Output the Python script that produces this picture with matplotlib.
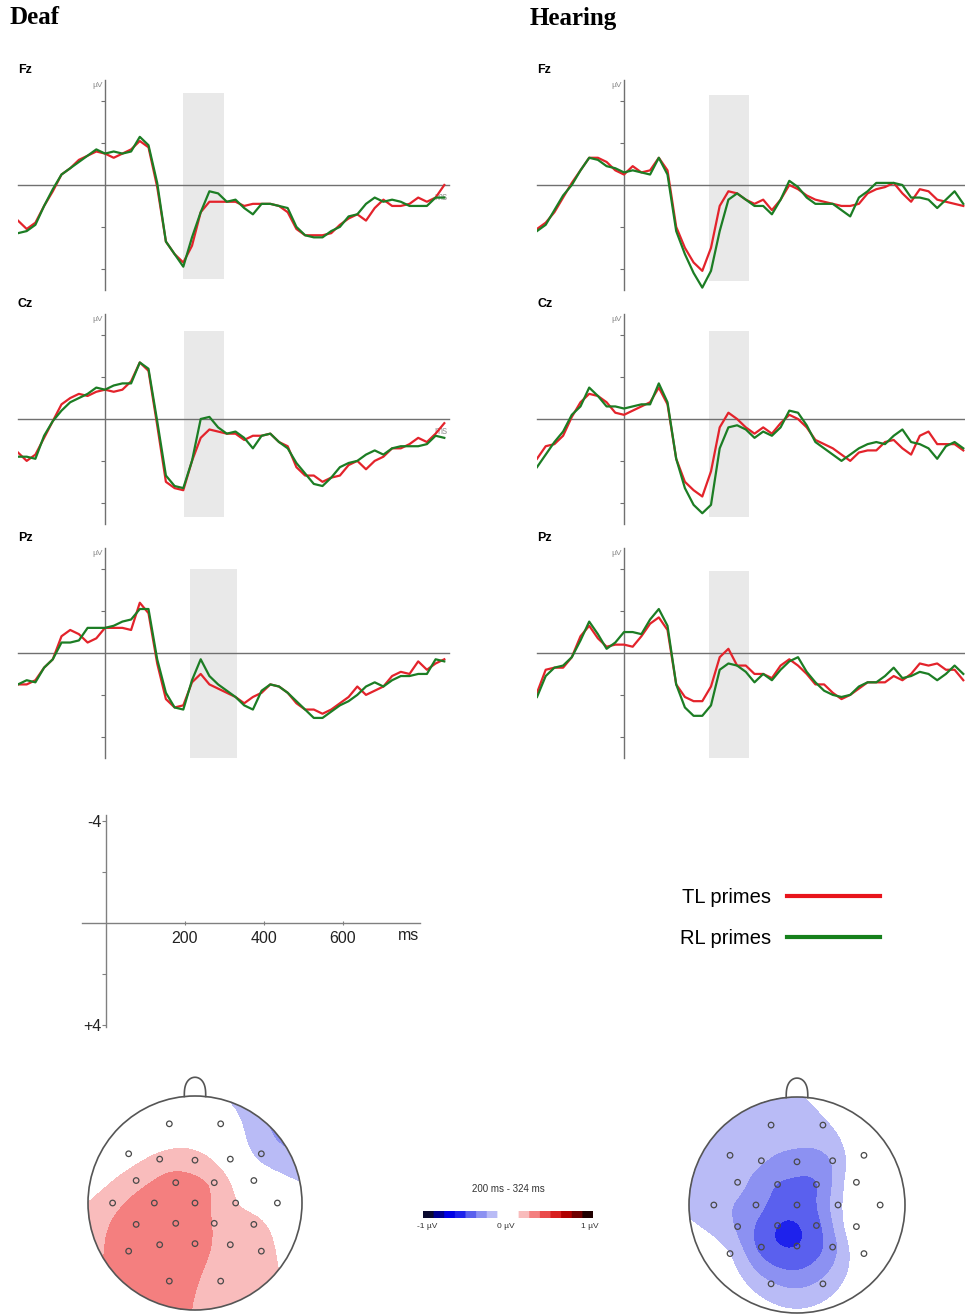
import numpy as np
import matplotlib
matplotlib.use("Agg")
import matplotlib.pyplot as plt
from matplotlib.colors import ListedColormap, BoundaryNorm
from matplotlib.lines import Line2D
from matplotlib.patches import Circle

plt.rcParams['font.family'] = ['Liberation Sans', 'DejaVu Sans']

# ---------------- data ----------------
times = np.arange(-200, 781, 20)   # ms

deaf_fz_tl = [1.7, 2.1, 1.8, 1.0, 0.3, -0.5, -0.8, -1.2, -1.4, -1.6,
              -1.5, -1.3, -1.5, -1.7, -2.1, -1.8, 0.1, 2.7, 3.3, 3.7,
              2.9, 1.3, 0.8, 0.8, 0.8, 0.8, 1.0, 0.9, 0.9, 0.9,
              1.0, 1.3, 2.1, 2.4, 2.4, 2.4, 2.3, 1.9, 1.6, 1.4,
              1.7, 1.1, 0.7, 1.0, 1.0, 0.9, 0.6, 0.8, 0.6, 0.0]
deaf_fz_rl = [2.3, 2.2, 1.9, 1.0, 0.2, -0.5, -0.8, -1.1, -1.4, -1.7,
              -1.5, -1.6, -1.5, -1.6, -2.3, -1.9, -0.1, 2.7, 3.3, 3.9,
              2.5, 1.3, 0.3, 0.4, 0.8, 0.7, 1.1, 1.4, 0.9, 0.9,
              1.0, 1.1, 2.0, 2.4, 2.5, 2.5, 2.2, 2.0, 1.5, 1.4,
              0.9, 0.6, 0.8, 0.7, 0.8, 1.0, 1.0, 1.0, 0.6, 0.6]
deaf_cz_tl = [1.6, 2.0, 1.7, 0.9, 0.1, -0.7, -1.0, -1.2, -1.1, -1.3,
              -1.4, -1.3, -1.4, -1.8, -2.7, -2.3, 0.3, 3.0, 3.3, 3.4,
              2.0, 0.9, 0.5, 0.6, 0.7, 0.7, 1.0, 0.8, 0.8, 0.7,
              1.1, 1.3, 2.3, 2.7, 2.7, 3.0, 2.8, 2.7, 2.2, 2.0,
              2.4, 2.0, 1.8, 1.4, 1.4, 1.2, 0.9, 1.1, 0.7, 0.2]
deaf_cz_rl = [1.8, 1.8, 1.9, 0.8, 0.1, -0.4, -0.8, -1.0, -1.2, -1.5,
              -1.4, -1.6, -1.7, -1.7, -2.7, -2.4, 0.1, 2.7, 3.2, 3.3,
              2.0, 0.0, -0.1, 0.4, 0.7, 0.6, 0.9, 1.4, 0.8, 0.7,
              1.1, 1.4, 2.1, 2.6, 3.1, 3.2, 2.8, 2.3, 2.1, 2.0,
              1.7, 1.5, 1.7, 1.4, 1.3, 1.3, 1.3, 1.2, 0.8, 0.9]
deaf_pz_tl = [1.5, 1.5, 1.3, 0.7, 0.3, -0.8, -1.1, -0.9, -0.5, -0.7,
              -1.2, -1.2, -1.2, -1.1, -2.4, -1.9, 0.5, 2.2, 2.6, 2.5,
              1.4, 1.0, 1.5, 1.7, 1.9, 2.1, 2.4, 2.1, 1.9, 1.5,
              1.6, 1.9, 2.4, 2.7, 2.7, 2.9, 2.7, 2.4, 2.1, 1.6,
              2.0, 1.8, 1.6, 1.1, 0.9, 1.0, 0.4, 0.8, 0.5, 0.3]
deaf_pz_rl = [1.5, 1.3, 1.4, 0.7, 0.3, -0.5, -0.5, -0.6, -1.2, -1.2,
              -1.2, -1.3, -1.5, -1.6, -2.1, -2.1, 0.3, 1.9, 2.6, 2.7,
              1.3, 0.3, 1.1, 1.5, 1.8, 2.1, 2.5, 2.7, 1.8, 1.5,
              1.6, 1.9, 2.3, 2.7, 3.1, 3.1, 2.8, 2.5, 2.3, 2.0,
              1.6, 1.4, 1.6, 1.3, 1.1, 1.1, 1.0, 1.0, 0.3, 0.4]

hear_fz_tl = [2.1, 1.8, 1.3, 0.6, -0.1, -0.7, -1.3, -1.3, -1.1, -0.7,
              -0.5, -0.9, -0.6, -0.7, -1.3, -0.7, 2.0, 3.0, 3.7, 4.1,
              3.0, 1.0, 0.3, 0.4, 0.7, 0.9, 0.7, 1.2, 0.7, 0.0,
              0.2, 0.5, 0.7, 0.8, 0.9, 1.0, 1.0, 0.9, 0.4, 0.2,
              0.1, -0.1, 0.4, 0.8, 0.2, 0.3, 0.7, 0.8, 0.9, 1.0]
hear_fz_rl = [2.2, 1.9, 1.2, 0.5, 0.0, -0.7, -1.3, -1.2, -0.9, -0.8,
              -0.6, -0.7, -0.6, -0.5, -1.3, -0.5, 2.2, 3.3, 4.2, 4.9,
              4.1, 2.2, 0.7, 0.4, 0.7, 1.0, 1.0, 1.4, 0.7, -0.2,
              0.1, 0.6, 0.9, 0.9, 0.9, 1.2, 1.5, 0.6, 0.3, -0.1,
              -0.1, -0.1, 0.0, 0.6, 0.6, 0.7, 1.1, 0.7, 0.3, 0.9]
hear_cz_tl = [1.9, 1.3, 1.2, 0.8, -0.1, -0.8, -1.2, -1.1, -0.8, -0.3,
              -0.2, -0.4, -0.6, -0.8, -1.5, -0.7, 1.9, 3.0, 3.4, 3.7,
              2.5, 0.4, -0.3, 0.0, 0.4, 0.7, 0.4, 0.7, 0.2, -0.2,
              0.0, 0.4, 1.0, 1.2, 1.4, 1.7, 2.0, 1.6, 1.5, 1.5,
              1.1, 1.0, 1.4, 1.7, 0.8, 0.6, 1.2, 1.2, 1.2, 1.5]
hear_cz_rl = [2.3, 1.7, 1.1, 0.6, -0.2, -0.6, -1.5, -1.1, -0.6, -0.6,
              -0.5, -0.6, -0.7, -0.7, -1.7, -0.8, 1.9, 3.3, 4.1, 4.5,
              4.1, 1.4, 0.4, 0.3, 0.5, 0.9, 0.6, 0.8, 0.4, -0.4,
              -0.3, 0.3, 1.1, 1.4, 1.7, 2.0, 1.7, 1.4, 1.2, 1.1,
              1.2, 0.8, 0.5, 1.1, 1.2, 1.4, 1.9, 1.3, 1.1, 1.4]
hear_pz_tl = [1.9, 0.8, 0.7, 0.7, 0.2, -0.8, -1.3, -0.7, -0.3, -0.4,
              -0.4, -0.3, -0.8, -1.4, -1.7, -1.1, 1.5, 2.1, 2.3, 2.3,
              1.6, 0.2, -0.2, 0.6, 0.6, 1.0, 1.0, 1.2, 0.6, 0.3,
              0.6, 1.0, 1.5, 1.5, 1.9, 2.2, 2.0, 1.7, 1.4, 1.4,
              1.4, 1.1, 1.3, 1.0, 0.5, 0.6, 0.5, 0.8, 0.8, 1.3]
hear_pz_rl = [2.1, 1.1, 0.7, 0.6, 0.2, -0.6, -1.5, -0.9, -0.2, -0.5,
              -1.0, -1.0, -0.9, -1.6, -2.1, -1.3, 1.5, 2.6, 3.0, 3.0,
              2.5, 0.8, 0.5, 0.6, 0.9, 1.4, 1.0, 1.3, 0.8, 0.4,
              0.2, 0.9, 1.4, 1.8, 2.0, 2.1, 2.0, 1.6, 1.4, 1.4,
              1.1, 0.7, 1.2, 1.1, 0.9, 1.0, 1.3, 1.0, 0.6, 1.0]

# shaded analysis windows (ms) and their vertical extent (µV)
deaf_windows = [(179, 274, -4.4, 4.5), (181, 274, -4.2, 4.7), (195, 303, -4.0, 5.0)]
hear_windows = [(196, 288, -4.3, 4.6), (196, 288, -4.2, 4.7), (196, 288, -3.9, 5.0)]

channels = ['Fz', 'Cz', 'Pz']

# topographic maps, 200-324 ms (µV)
elec_names = ['Fp1', 'Fp2', 'F7', 'F3', 'Fz', 'F4', 'F8', 'FC5', 'FC1', 'FC2', 'FC6',
              'T7', 'C3', 'Cz', 'C4', 'T8', 'CP5', 'CP1', 'CP2', 'CP6',
              'P7', 'P3', 'Pz', 'P4', 'P8', 'O1', 'O2']
elec_x = [-0.24, 0.24, -0.62, -0.33, 0.0, 0.33, 0.62, -0.55, -0.18, 0.18, 0.55,
          -0.77, -0.38, 0.0, 0.38, 0.77, -0.55, -0.18, 0.18, 0.55,
          -0.62, -0.33, 0.0, 0.33, 0.62, -0.24, 0.24]
elec_y = [0.74, 0.74, 0.46, 0.41, 0.40, 0.41, 0.46, 0.21, 0.19, 0.19, 0.21,
          0.0, 0.0, 0.0, 0.0, 0.0, -0.20, -0.19, -0.19, -0.20,
          -0.45, -0.39, -0.38, -0.39, -0.45, -0.73, -0.73]
deaf_topo = [0.0, -0.02, 0.05, 0.16, 0.17, 0.02, -0.17, 0.2, 0.3, 0.22, 0.0,
             0.2, 0.32, 0.3, 0.13, 0.03, 0.35, 0.36, 0.24, 0.15,
             0.3, 0.35, 0.3, 0.2, 0.15, 0.3, 0.2]
hear_topo = [-0.2, -0.15, -0.22, -0.24, -0.3, -0.24, 0.0, -0.23, -0.38, -0.38, -0.03,
             -0.22, -0.32, -0.45, -0.17, -0.02, -0.27, -0.5, -0.42, -0.02,
             -0.13, -0.42, -0.5, -0.3, -0.02, -0.24, -0.22]

# ---------------- figure ----------------
W, H = 965, 1315
fig = plt.figure(figsize=(W / 100, H / 100), dpi=100)
fig.patch.set_facecolor('white')


def px_axes(x0, y0, w, h):
    return fig.add_axes([x0 / W, 1 - (y0 + h) / H, w / W, h / H])


def fx(px):
    return px / W


def fy(py):
    return 1 - py / H


RED = '#e3232b'
GREEN = '#1c7d24'
AX_COL = '#707070'

zeros_px = [185, 419, 653]
px_per_ms = 0.435
panel_w = 990 * px_per_ms

fig.text(fx(10), fy(18), 'Deaf', family='Liberation Serif', weight='bold', fontsize=18, va='center')
fig.text(fx(530), fy(18), 'Hearing', family='Liberation Serif', weight='bold', fontsize=18, va='center')

groups = [
    (18, [deaf_fz_tl, deaf_cz_tl, deaf_pz_tl], [deaf_fz_rl, deaf_cz_rl, deaf_pz_rl], deaf_windows, True),
    (537, [hear_fz_tl, hear_cz_tl, hear_pz_tl], [hear_fz_rl, hear_cz_rl, hear_pz_rl], hear_windows, False),
]

for x0, tl_list, rl_list, windows, show_ms in groups:
    for i, ch in enumerate(channels):
        z = zeros_px[i]
        ax = px_axes(x0, z - 111, panel_w, 222)
        ax.set_xlim(-200, 790)
        ax.set_ylim(5.3, -5.3)   # negative up
        t0, t1, v0, v1 = windows[i]
        ax.fill_between([t0, t1], [v0, v0], [v1, v1], color='#e9e9e9', lw=0, zorder=0)
        ax.plot(times, tl_list[i], color=RED, lw=1.6, zorder=3)
        ax.plot(times, rl_list[i], color=GREEN, lw=1.6, zorder=3)
        for s in ['top', 'right']:
            ax.spines[s].set_visible(False)
        ax.spines['left'].set_position(('data', 0))
        ax.spines['left'].set_bounds(-5, 5)
        ax.spines['bottom'].set_position(('data', 0))
        for s in ['left', 'bottom']:
            ax.spines[s].set_color(AX_COL)
            ax.spines[s].set_linewidth(1.0)
            ax.spines[s].set_zorder(2)
        ax.set_xticks([])
        ax.set_yticks([-4, -2, 2, 4])
        ax.set_yticklabels([])
        ax.tick_params(axis='y', length=3, color=AX_COL, direction='out')
        ax.patch.set_alpha(0)
        ax.text(-6, -4.75, 'µV', ha='right', va='center', fontsize=6, color='#888888')
        if show_ms and i < 2:
            ax.text(772, 0.55, 'ms', ha='center', va='center', fontsize=7, color='#999999', zorder=1)
        fig.text(fx(x0), fy(z - 115), ch, weight='bold', fontsize=9, va='center')

# ---------------- scale axis ----------------
sax = px_axes(82, 805, 338, 230)
sax.set_xlim(-59.5, 796)
sax.set_ylim(4.39, -4.63)
for s in ['top', 'right']:
    sax.spines[s].set_visible(False)
sax.spines['left'].set_position(('data', 0))
sax.spines['left'].set_bounds(-4.24, 4.08)
sax.spines['bottom'].set_position(('data', 0))
for s in ['left', 'bottom']:
    sax.spines[s].set_color('#808080')
    sax.spines[s].set_linewidth(1.0)
sax.set_xticks([200, 400, 600])
sax.set_xticklabels(['200', '400', '600'], fontsize=11.5, color='#222222')
sax.tick_params(axis='x', length=3, direction='inout', color='#808080', pad=4)
sax.set_yticks([-4, -2, 2, 4])
sax.set_yticklabels(['-4', '', '', '+4'], fontsize=11.5, color='#222222')
sax.tick_params(axis='y', length=3, direction='out', color='#808080', pad=0)
sax.text(768, 0.47, 'ms', ha='center', va='center', fontsize=11.5, color='#222222')
sax.patch.set_alpha(0)

# ---------------- legend ----------------
handles = [Line2D([], [], color='#e8141c', lw=3.0), Line2D([], [], color='#16801c', lw=3.0)]
fig.legend(handles, ['TL primes', 'RL primes'], loc='upper left',
           bbox_to_anchor=(fx(662), fy(870)), frameon=False, markerfirst=False,
           fontsize=14.5, handlelength=4.6, handletextpad=0.8, labelspacing=1.1)

# ---------------- topographic maps ----------------
bin_colors = ['#0a0a30', '#000090', '#0000e6', '#1e22ec', '#5a60ee', '#8c91f2', '#b9bbf6', '#ffffff',
              '#ffffff', '#f9bcbc', '#f47f7f', '#ea4a4a', '#d81e1e', '#b00000', '#700000', '#200000']
topo_cmap = ListedColormap(bin_colors)
topo_levels = np.linspace(-1, 1, 17)
topo_norm = BoundaryNorm(topo_levels, topo_cmap.N)


def thin_plate(xs, ys, vals, gx, gy):
    pts = np.column_stack([xs, ys])
    n = len(vals)
    d = np.linalg.norm(pts[:, None, :] - pts[None, :, :], axis=2)
    K = np.where(d > 0, d ** 2 * np.log(np.maximum(d, 1e-12)), 0.0)
    P = np.column_stack([np.ones(n), xs, ys])
    A = np.zeros((n + 3, n + 3))
    A[:n, :n] = K
    A[:n, n:] = P
    A[n:, :n] = P.T
    sol = np.linalg.solve(A, np.concatenate([vals, np.zeros(3)]))
    w, a = sol[:n], sol[n:]
    q = np.column_stack([gx.ravel(), gy.ravel()])
    dq = np.linalg.norm(q[:, None, :] - pts[None, :, :], axis=2)
    Kq = np.where(dq > 0, dq ** 2 * np.log(np.maximum(dq, 1e-12)), 0.0)
    zz = Kq @ w + a[0] + a[1] * q[:, 0] + a[2] * q[:, 1]
    return zz.reshape(gx.shape)


gx, gy = np.meshgrid(np.linspace(-1, 1, 220), np.linspace(-1, 1, 220))
inside = gx ** 2 + gy ** 2 <= 1.0

for (cx, cy, r), vals in [((195, 1203, 107), deaf_topo), ((797, 1205, 108), hear_topo)]:
    tax = px_axes(cx - 115, 1068, 230, 247)
    tax.set_xlim(-115 / r, 115 / r)
    tax.set_ylim((cy - 1315) / r, (cy - 1068) / r)
    zz = thin_plate(np.array(elec_x), np.array(elec_y), np.array(vals), gx, gy)
    zz = np.clip(zz, -0.999, 0.999)
    zz = np.where(inside, zz, np.nan)
    tax.contourf(gx, gy, zz, levels=topo_levels, cmap=topo_cmap, norm=topo_norm)
    tax.add_patch(Circle((0, 0), 1.0, fill=False, ec='#555555', lw=1.2))
    th = np.linspace(0, np.pi, 60)
    tax.plot(0.1 * np.cos(th), 0.995 + 0.18 * np.sin(th) ** 0.7, color='#555555', lw=1.2)
    tax.scatter(elec_x, elec_y, s=16, facecolors='none', edgecolors='#4a4a4a', linewidths=0.9, zorder=4)
    tax.axis('off')

# colour bar
cax = px_axes(423, 1211, 170, 7)
cax.imshow(np.linspace(-1, 1, 256)[None, :], cmap=topo_cmap, norm=topo_norm,
           aspect='auto', extent=(-1, 1, 0, 1))
cax.axis('off')
fig.text(fx(508), fy(1189), '200 ms - 324 ms', ha='center', va='center', fontsize=7, color='#333333')
fig.text(fx(427), fy(1226), '-1 µV', ha='center', va='center', fontsize=6, color='#333333')
fig.text(fx(506), fy(1226), '0 µV', ha='center', va='center', fontsize=6, color='#333333')
fig.text(fx(590), fy(1226), '1 µV', ha='center', va='center', fontsize=6, color='#333333')

fig.savefig('out.png', dpi=100)
